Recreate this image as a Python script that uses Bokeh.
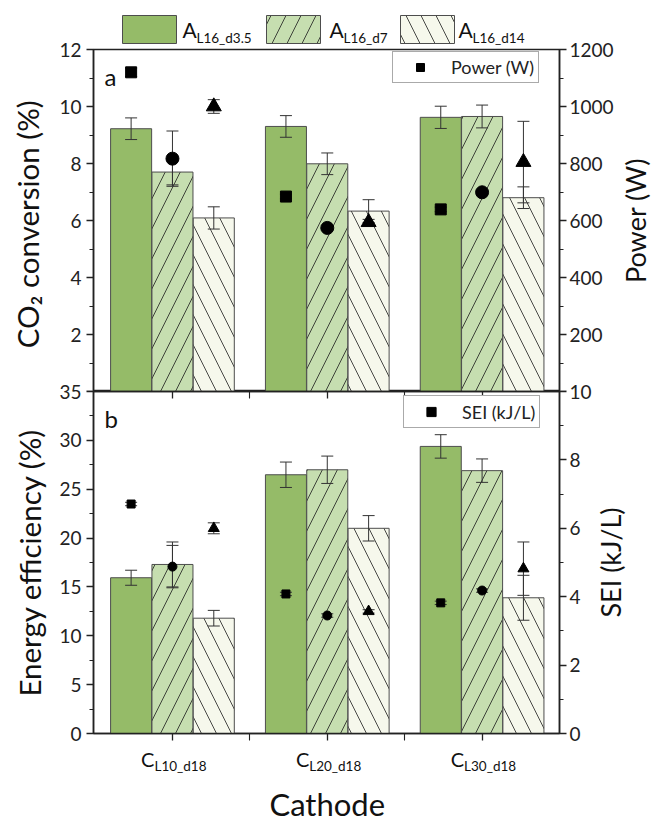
import math

from bokeh.core.properties import value
from bokeh.embed import file_html
from bokeh.layouts import column, row
from bokeh.models import (ColumnDataSource, FixedTicker, Label, Legend,
                          LegendItem, LinearAxis, Range1d, TeeHead, Whisker)
from bokeh.plotting import figure
from bokeh.resources import INLINE

# ---------------------------------------------------------------- data
cathodes = ["L10_d18", "L20_d18", "L30_d18"]
anodes = ["L16_d3.5", "L16_d7", "L16_d14"]
cat_x = [1, 2, 3]

# (a) CO2 conversion (%) per anode, with error
co2 = {
    "L16_d3.5": [9.22, 9.30, 9.62],
    "L16_d7": [7.70, 7.99, 9.65],
    "L16_d14": [6.09, 6.33, 6.80],
}
co2_err = {
    "L16_d3.5": [0.38, 0.38, 0.39],
    "L16_d7": [0.45, 0.38, 0.40],
    "L16_d14": [0.39, 0.40, 0.38],
}
# (a) discharge power (W)
power = {
    "L16_d3.5": [1120, 684, 639],
    "L16_d7": [817, 574, 699],
    "L16_d14": [1000, 594, 805],
}
power_err = {
    "L16_d3.5": [15, 8, 8],
    "L16_d7": [97, 8, 8],
    "L16_d14": [24, 10, 143],
}

# (b) energy efficiency (%)
eff = {
    "L16_d3.5": [15.94, 26.48, 29.38],
    "L16_d7": [17.30, 26.99, 26.90],
    "L16_d14": [11.80, 21.00, 13.89],
}
eff_err = {
    "L16_d3.5": [0.77, 1.30, 1.20],
    "L16_d7": [2.30, 1.40, 1.20],
    "L16_d14": [0.80, 1.30, 2.30],
}
# (b) specific energy input (kJ/L)
sei = {
    "L16_d3.5": [6.71, 4.08, 3.82],
    "L16_d7": [4.88, 3.45, 4.18],
    "L16_d14": [6.00, 3.57, 4.82],
}
sei_err = {
    "L16_d3.5": [0.05, 0.05, 0.05],
    "L16_d7": [0.62, 0.05, 0.05],
    "L16_d14": [0.16, 0.05, 0.78],
}

# ---------------------------------------------------------------- style
FONT = "Lato"
INK = "#222222"
TXT = "#111111"
EDGE = "#4d4d4d"
fills = {"L16_d3.5": "#95bb68", "L16_d7": "#c6deb0", "L16_d14": "#f6f8ec"}
hatches = {"L16_d3.5": " ", "L16_d7": "/", "L16_d14": "\\"}
markers = {"L16_d3.5": "square", "L16_d7": "circle", "L16_d14": "triangle"}
offsets = {"L16_d3.5": -0.267, "L16_d7": 0.0, "L16_d14": 0.267}
BAR_W = 0.265
HATCH = dict(hatch_color="#1a1a1a", hatch_weight=0.8, hatch_scale=30)

W = 652
H = 822
BORDER_LR = 93
FRAME_H = 342
KEY_H = 49          # strip holding the series key
OVERLAP = 14        # room for edge tick labels, tucked under the previous strip
GAP_B = 12          # tick marks under panel b
LABEL_H = 77        # strip holding the cathode labels
SIDE_W = 70         # transparent strip over the right edge, for the titles
MID = 0.387         # baseline-to-middle distance of Lato, in em

x_range = Range1d(0.49, 3.5)


def mid(baseline, size):
    """y of a text's middle, in a top-down pixel strip, from its baseline."""
    return baseline - MID * size


def style_axis(ax, ticks, minor, overrides=None, standoff=5):
    ax.ticker = FixedTicker(ticks=ticks, minor_ticks=minor)
    ax.major_tick_in = 0
    ax.major_tick_out = 7
    ax.minor_tick_in = 0
    ax.minor_tick_out = 4
    ax.axis_line_color = INK
    ax.axis_line_width = 1.5
    ax.major_tick_line_color = INK
    ax.major_tick_line_width = 1.3
    ax.minor_tick_line_color = INK
    ax.minor_tick_line_width = 1.1
    ax.major_label_text_font = FONT
    ax.major_label_text_font_size = "19px"
    ax.major_label_text_color = INK
    ax.major_label_standoff = standoff
    ax.axis_label_text_font = FONT
    ax.axis_label_text_font_size = "29.5px"
    ax.axis_label_text_font_style = "normal"
    ax.axis_label_text_color = TXT
    if overrides:
        ax.major_label_overrides = overrides


def bare_strip(width, height, xr, yr, border_lr=BORDER_LR):
    p = figure(width=width, height=height, x_range=xr, y_range=yr,
               x_axis_location=None, y_axis_location=None,
               output_backend="svg", toolbar_location=None,
               min_border_left=border_lr, min_border_right=border_lr,
               min_border_top=0, min_border_bottom=0)
    p.grid.visible = False
    p.outline_line_color = None
    p.border_fill_color = "white"
    p.background_fill_color = "white"
    return p


def make_panel(height, top, bottom, left_end, right_end, right_name):
    p = figure(
        width=W, height=height, x_range=x_range, y_range=Range1d(0, left_end),
        x_axis_location=None, y_axis_location=None,
        output_backend="svg", toolbar_location=None,
        min_border_left=BORDER_LR, min_border_right=BORDER_LR,
        min_border_top=top, min_border_bottom=bottom,
    )
    p.extra_y_ranges = {right_name: Range1d(0, right_end)}
    p.grid.visible = False
    p.outline_line_color = INK
    p.outline_line_width = 1.5
    p.background_fill_color = "white"
    p.border_fill_alpha = 0
    p.margin = (-OVERLAP, 0, 0, 0)
    return p


def whisker(src, range_name=None):
    kw = dict(y_range_name=range_name) if range_name else {}
    head = dict(size=12, line_color="#333333", line_width=1)
    return Whisker(source=src, base="x", upper="upper", lower="lower",
                   line_color="#333333", line_width=1, level="annotation",
                   upper_head=TeeHead(**head), lower_head=TeeHead(**head), **kw)


def series_source(a, vals, errs, key):
    return ColumnDataSource({
        "x": [c + offsets[a] for c in cat_x],
        key: vals[a],
        "upper": [v + e for v, e in zip(vals[a], errs[a])],
        "lower": [v - e for v, e in zip(vals[a], errs[a])],
    })


def add_bars(p, vals, errs):
    for a in anodes:
        src = series_source(a, vals, errs, "top")
        p.vbar(x="x", top="top", width=BAR_W, bottom=0, source=src,
               fill_color=fills[a], line_color=EDGE, line_width=1,
               hatch_pattern=hatches[a], **HATCH)
        p.add_layout(whisker(src))


def add_points(p, vals, errs, range_name, sizes):
    first = None
    for a in anodes:
        src = series_source(a, vals, errs, "y")
        p.add_layout(whisker(src, range_name))
        r = p.scatter(x="x", y="y", source=src, marker=markers[a],
                      size=sizes[a], color="black", y_range_name=range_name,
                      level="overlay")
        first = first or r
    return first


def panel_legend(p, renderer, label, loc, label_h):
    p.add_layout(Legend(
        items=[LegendItem(label=label, renderers=[renderer])],
        location=loc, orientation="vertical",
        padding=4, margin=0, spacing=0,
        glyph_width=46, glyph_height=label_h,
        label_height=label_h, label_standoff=8,
        label_text_font=FONT, label_text_font_size="18px",
        label_text_color=INK,
        border_line_color="#555555", border_line_width=1,
        background_fill_color="white", background_fill_alpha=1))


def panel_tag(p, tag):
    p.add_layout(Label(
        x=11, y=FRAME_H - 27, x_units="screen", y_units="screen",
        text=tag, text_baseline="middle", text_font=FONT,
        text_font_size="24px", text_color=TXT))


def strip_text(p, size, **kw):
    p.text(text_font=value(FONT), text_font_size=value(f"{size}px"),
           text_color=TXT, text_baseline="middle", **kw)


# ---------------------------------------------------------------- series key
# the strip's data units are page pixels (x from the left, y from the top)
key = bare_strip(W, KEY_H, Range1d(BORDER_LR, W - BORDER_LR),
                 Range1d(KEY_H, 0))
key_left = [122, 266, 400]
key_text = [182, 329, 458]
for a, lx, tx in zip(anodes, key_left, key_text):
    key.quad(left=lx, right=lx + 54, top=15, bottom=43,
             fill_color=fills[a], line_color=EDGE, line_width=1,
             hatch_pattern=hatches[a], **HATCH)
    strip_text(key, 21, x=tx, y=mid(37, 21), text=value("A"))
    strip_text(key, 13.5, x=tx + 14, y=mid(43, 13.5), text=value(a))

# ---------------------------------------------------------------- panel a
pa = make_panel(OVERLAP + FRAME_H, OVERLAP, 0, 12, 1200, "power")
add_bars(pa, co2, co2_err)
sq_a = add_points(pa, power, power_err, "power",
                  {"L16_d3.5": 11, "L16_d7": 13, "L16_d14": 15})

ax = LinearAxis(axis_label="CO\u2082  conversion (%)", axis_label_standoff=11)
style_axis(ax, list(range(0, 13, 2)), list(range(1, 12, 2)), {0: ""})
pa.add_layout(ax, "left")
ax = LinearAxis(y_range_name="power")
style_axis(ax, list(range(0, 1201, 200)), list(range(100, 1200, 200)),
           {0: ""}, standoff=3)
pa.add_layout(ax, "right")
panel_legend(pa, sq_a, "Power (W)", (299, 308), 20)
panel_tag(pa, "a")

# ---------------------------------------------------------------- panel b
pb = make_panel(OVERLAP + FRAME_H + GAP_B, OVERLAP, GAP_B, 35, 10, "sei")
add_bars(pb, eff, eff_err)
sq_b = add_points(pb, sei, sei_err, "sei",
                  {"L16_d3.5": 8, "L16_d7": 9, "L16_d14": 11})

ax = LinearAxis(axis_label="Energy efficiency (%)", axis_label_standoff=9)
style_axis(ax, list(range(0, 36, 5)), [2.5 + 5 * i for i in range(7)])
pb.add_layout(ax, "left")
ax = LinearAxis(y_range_name="sei")
style_axis(ax, list(range(0, 11, 2)), list(range(1, 10, 2)), standoff=3)
pb.add_layout(ax, "right")

for loc, tick_in, tick_out in (("below", 0, 7), ("above", 7, 0)):
    xa = LinearAxis()
    style_axis(xa, cat_x, [1.5, 2.5], {c: "" for c in cat_x})
    xa.major_tick_in = xa.minor_tick_in = tick_in
    xa.major_tick_out = xa.minor_tick_out = tick_out
    xa.major_label_text_font_size = "0px"
    xa.major_label_standoff = 0
    pb.add_layout(xa, loc)

panel_legend(pb, sq_b, "SEI (kJ/L)", (310, 305), 23)
panel_tag(pb, "b")

# ---------------------------------------------------------------- cathode labels
cap = bare_strip(W, LABEL_H, x_range, Range1d(LABEL_H, 0))
names = ColumnDataSource(dict(x=cat_x, c=["C"] * len(cat_x), sub=cathodes))
strip_text(cap, 20, x="x", y=mid(21, 20), text="c", source=names,
           x_offset=-18, text_align="right")
strip_text(cap, 13.5, x="x", y=mid(26, 13.5), text="sub", source=names,
           x_offset=-18, text_align="left")
strip_text(cap, 31, x=sum(cat_x) / len(cat_x), y=mid(70, 31),
           text=value("Cathode"), text_align="center")

# ---------------------------------------------------------------- right titles
# transparent strip laid over the right edge; units are page pixels
side = bare_strip(SIDE_W, H, Range1d(W - SIDE_W, W), Range1d(H, 0), 0)
side.border_fill_alpha = 0
side.background_fill_alpha = 0
side.margin = (0, 0, 0, -SIDE_W)
panel_mid_a = KEY_H + FRAME_H / 2
panel_mid_b = KEY_H + FRAME_H + FRAME_H / 2
strip_text(side, 27, x=[635, 610], y=[panel_mid_a, panel_mid_b],
           text=["Power (W)", "SEI (kJ/L)"], angle=math.pi / 2,
           text_align="center")

layout = row(column(key, pa, pb, cap, spacing=0), side, spacing=0)
open("out.html", "w").write(file_html(layout, INLINE))
